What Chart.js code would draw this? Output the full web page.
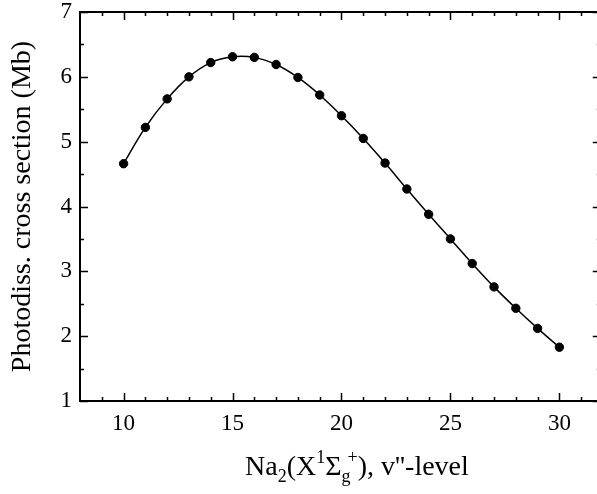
<!DOCTYPE html>
<html lang="en">
<head>
<meta charset="UTF-8">
<title>Photodissociation cross section</title>
<script src="https://cdn.jsdelivr.net/npm/chart.js@4.4.1/dist/chart.umd.min.js"></script>
<style type="text/css">
	html, body {
		margin: 0;
		padding: 0;
		background: #fff;
		overflow: hidden;
	}
	#wrap {
		position: relative;
		width: 606px;
		height: 494px;
	}
	#xTitle {
		position: absolute;
		left: 245px;
		top: 452px;
		font-family: "Liberation Serif", "Times New Roman", serif;
		font-size: 28px;
		line-height: 28px;
		color: #000;
		white-space: nowrap;
	}
	#xTitle sub, #xTitle sup {
		font-size: 18px;
		line-height: 0;
		position: relative;
		vertical-align: baseline;
	}
	#xTitle sub { top: 7px; }
	#xTitle sup { top: -12px; }
</style>
</head>
<body>
<div id="wrap">
	<canvas id="myChart" width="606" height="494"></canvas>
	<div id="xTitle">Na<sub>2</sub>(X<sup>1</sup>&Sigma;<sub>g</sub><sup style="margin-left:-3px">+</sup>), v''-level</div>
</div>
<script>
// data
const levels = [10, 11, 12, 13, 14, 15, 16, 17, 18, 19, 20, 21, 22, 23, 24, 25, 26, 27, 28, 29, 30];
const crossSection = [4.66, 5.22, 5.66, 6.00, 6.22, 6.31, 6.30, 6.19, 5.99, 5.72, 5.40, 5.05, 4.67, 4.27, 3.88, 3.50, 3.12, 2.76, 2.43, 2.12, 1.83];

// axis ticks
const xMajor = [10, 15, 20, 25, 30];
const xMinor = [9, 11, 12, 13, 14, 16, 17, 18, 19, 21, 22, 23, 24, 26, 27, 28, 29, 31];
const yMajor = [1, 2, 3, 4, 5, 6, 7];
const yMinor = [1.5, 2.5, 3.5, 4.5, 5.5, 6.5];

const serif = "'Liberation Serif', 'Times New Roman', serif";

// ticks pointing inward on all four sides + top frame line
const frameTicks = {
	id: 'frameTicks',
	afterDraw(chart) {
		const ctx = chart.ctx;
		const a = chart.chartArea;
		const xs = chart.scales.x;
		const ys = chart.scales.y;
		ctx.save();
		ctx.strokeStyle = '#000';
		ctx.lineWidth = 2;
		ctx.beginPath();
		ctx.moveTo(a.left - 1, a.top);
		ctx.lineTo(a.right, a.top);
		ctx.stroke();
		ctx.lineWidth = 1.5;
		function xt(v, len) {
			const px = Math.round(xs.getPixelForValue(v)) + 0.5;
			ctx.beginPath();
			ctx.moveTo(px, a.bottom); ctx.lineTo(px, a.bottom - len);
			ctx.moveTo(px, a.top); ctx.lineTo(px, a.top + len);
			ctx.stroke();
		}
		function yt(v, len) {
			const py = Math.round(ys.getPixelForValue(v)) + 0.5;
			ctx.beginPath();
			ctx.moveTo(a.left, py); ctx.lineTo(a.left + len, py);
			ctx.moveTo(a.right, py); ctx.lineTo(a.right - len, py);
			ctx.stroke();
		}
		xMajor.forEach(v => xt(v, 8));
		xMinor.forEach(v => xt(v, 4));
		yMajor.forEach(v => yt(v, 8));
		yMinor.forEach(v => yt(v, 4));
		ctx.restore();
	}
};

const ctx = document.getElementById('myChart');
const myChart = new Chart(ctx, {
	type: 'line',
	data: {
		datasets: [{
			data: levels.map((v, i) => ({x: v, y: crossSection[i]})),
			borderColor: '#000',
			borderWidth: 1.5,
			backgroundColor: '#000',
			pointBackgroundColor: '#000',
			pointBorderColor: '#000',
			pointBorderWidth: 1,
			pointRadius: 4.2,
			tension: 0.4,
			fill: false
		}]
	},
	options: {
		responsive: false,
		animation: false,
		layout: {padding: {top: 12, right: 5, left: 0, bottom: 0}},
		plugins: {
			legend: {display: false},
			tooltip: {enabled: false}
		},
		scales: {
			x: {
				type: 'linear',
				min: 8,
				max: 31.9,
				afterBuildTicks: s => { s.ticks = xMajor.map(v => ({value: v})); },
				afterFit: s => { s.height = 93; s.paddingLeft = 0; s.paddingRight = 0; },
				grid: {display: false, drawTicks: false},
				border: {display: true, color: '#000', width: 2},
				ticks: {
					color: '#000',
					padding: 9,
					maxRotation: 0,
					font: {family: serif, size: 23}
				}
			},
			y: {
				type: 'linear',
				min: 1,
				max: 7,
				afterBuildTicks: s => { s.ticks = yMajor.map(v => ({value: v})); },
				// keep the plot top at the layout padding, not pushed down by the "7" label
				afterFit: s => { s.width = 80; s.paddingTop = 0; s.paddingBottom = 0; },
				grid: {display: false, drawTicks: false},
				border: {display: true, color: '#000', width: 2},
				ticks: {
					color: '#000',
					padding: 8,
					font: {family: serif, size: 23}
				},
				title: {
					display: true,
					text: 'Photodiss. cross section (Mb)',
					color: '#000',
					padding: {top: 9, bottom: 0},
					font: {family: serif, size: 28, lineHeight: 1}
				}
			}
		}
	},
	plugins: [frameTicks]
});
</script>
</body>
</html>
